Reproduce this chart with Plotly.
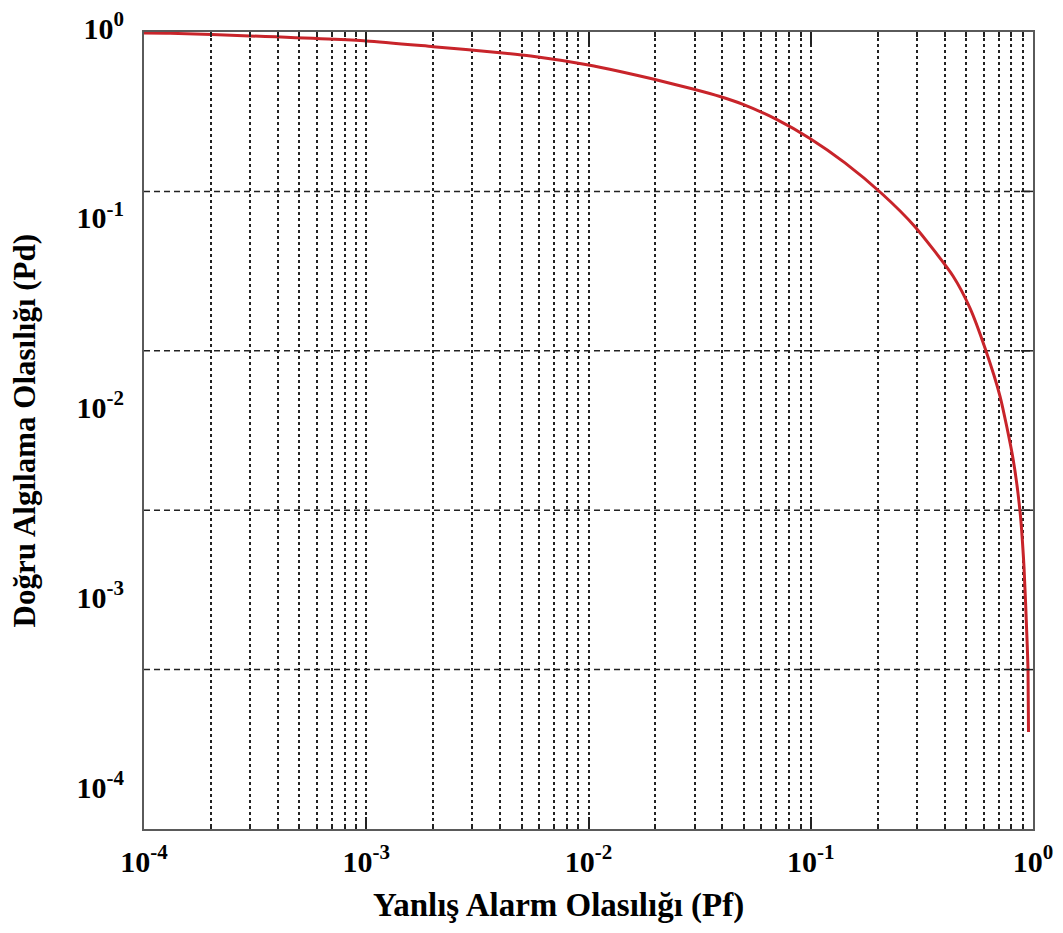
import plotly.graph_objects as go

# Data (ROC curve): false-alarm probability vs detection probability
pf = [1e-4, 1.31e-4, 3e-4, 1e-3, 2e-3, 4e-3, 5.5e-3, 0.01, 0.01386, 0.01951, 0.02953,
      0.03906, 0.04957, 0.0705, 0.0992, 0.1426, 0.2092, 0.2944, 0.4365, 0.5206,
      0.6081, 0.7102, 0.8128, 0.8739, 0.911, 0.9397, 0.9495, 0.9544]
pd_ = [0.988, 0.985, 0.953, 0.897, 0.837, 0.778, 0.747, 0.670, 0.6193, 0.5652, 0.5006,
       0.4571, 0.4153, 0.3454, 0.2747, 0.2043, 0.1405, 0.0942, 0.0518, 0.0351,
       0.02162, 0.01207, 0.005662, 0.002991, 0.001516, 0.000633, 0.000440, 0.000205]

x_tickvals = [1e-4, 1e-3, 1e-2, 1e-1, 1]
x_ticktext = ["10<sup>-4</sup>", "10<sup>-3</sup>", "10<sup>-2</sup>", "10<sup>-1</sup>", "10<sup>0</sup>"]
y_tickvals = [1, 1e-1, 1e-2, 1e-3, 1e-4]
y_ticktext = ["10<sup>0</sup>", "10<sup>-1</sup>", "10<sup>-2</sup>", "10<sup>-3</sup>", "10<sup>-4</sup>"]
hgrid_vals = [0.2, 0.4, 0.6, 0.8]   # horizontal dashed grid, fraction of plot height

x_title = "Yanlış Alarm Olasılığı (Pf)"
y_title = "Doğru Algılama Olasılığı (Pd)"

FONT = "Liberation Serif"
GRID = "#222222"
FRAME = "#5a5a5a"

fig = go.Figure()
fig.add_trace(go.Scatter(x=pf, y=pd_, mode="lines",
                         line=dict(color="#c8242a", width=3, shape="spline", smoothing=0.6),
                         showlegend=False))

shapes = []
for v in hgrid_vals:
    shapes.append(dict(type="line", xref="x domain", yref="y domain",
                       x0=0, x1=1, y0=v, y1=v, layer="below",
                       line=dict(color=GRID, width=1.5, dash="6px,4px")))
    shapes.append(dict(type="line", xref="x domain", yref="y domain",
                       x0=1 - 12 / 889, x1=1, y0=v, y1=v, layer="above",
                       line=dict(color=GRID, width=1.5)))

fig.update_layout(
    width=1047, height=917,
    margin=dict(l=136, r=22, t=24, b=96, autoexpand=False),
    paper_bgcolor="white", plot_bgcolor="white",
    font=dict(family=FONT, color="black"),
    xaxis=dict(
        type="log", range=[-4, 0], automargin=False,
        tickmode="array", tickvals=x_tickvals, ticktext=x_ticktext,
        tickfont=dict(family=FONT, size=30, weight="bold", color="black"),
        ticks="inside", ticklen=12, tickwidth=1.5, tickcolor=GRID,
        ticklabelstandoff=5, ticklabeloverflow="allow",
        showgrid=True, gridcolor=GRID, gridwidth=1.5, griddash="dot",
        minor=dict(dtick="D1", ticks="inside", ticklen=5, tickcolor=GRID,
                   showgrid=True, gridcolor=GRID, gridwidth=1.5, griddash="dot"),
        showline=True, linecolor=FRAME, linewidth=2, mirror="ticks",
        zeroline=False,
    ),
    yaxis=dict(
        type="log", range=[-4.2, 0], automargin=False,
        tickmode="array", tickvals=y_tickvals, ticktext=y_ticktext,
        tickfont=dict(family=FONT, size=30, weight="bold", color="black"),
        ticks="", ticklabelstandoff=12, ticklabelshift=-4,
        ticklabeloverflow="allow",
        showgrid=False,
        showline=True, linecolor=FRAME, linewidth=2, mirror=True,
        zeroline=False,
    ),
    shapes=shapes,
    annotations=[
        dict(text=x_title, xref="paper", yref="paper", x=0.4657, y=-0.0954,
             xanchor="center", yanchor="middle", showarrow=False,
             font=dict(family=FONT, size=33, weight="bold", color="black")),
        dict(text=y_title, xref="paper", yref="paper", x=-0.1339, y=0.5,
             xanchor="center", yanchor="middle", showarrow=False, textangle=-90,
             font=dict(family=FONT, size=31, weight="bold", color="black")),
    ],
)

fig.write_html("out.html")
